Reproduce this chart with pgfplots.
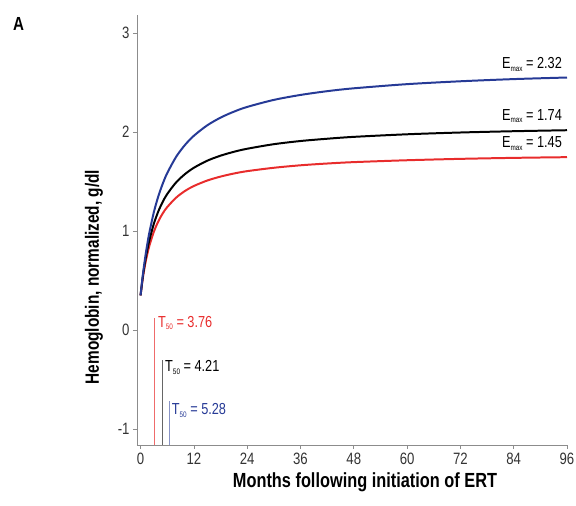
\documentclass[border=0pt]{standalone}
\usepackage{fontspec}
\setmainfont{Liberation Sans}[FakeStretch=0.8]
\usepackage{pgfplots}
\pgfplotsset{compat=1.18}

\definecolor{cblue}{RGB}{38,58,150}
\definecolor{cred}{RGB}{232,44,44}
\definecolor{axgray}{RGB}{140,140,140}

\newcommand{\sub}[1]{\raisebox{-2.5bp}{\fontsize{8}{8}\selectfont #1}}

\begin{document}
\begin{tikzpicture}
\useasboundingbox (-137bp,-61bp) rectangle (439bp,445bp);
\begin{axis}[
    at={(0,0)}, anchor=south west,
    scale only axis,
    width=430bp, height=430bp,
    xmin=-0.8, xmax=96, ymin=-1.16, ymax=3.18,
    axis x line*=bottom, axis y line*=left,
    axis line style={axgray, line width=0.8pt},
    xtick={0,12,...,96},
    ytick={-1,0,1,2,3}, yticklabels={-1,0,1,2,3},
    tick align=outside, major tick length=4bp,
    tick style={axgray, line width=0.6pt},
    ticklabel style={font=\fontsize{16.5}{16.5}\selectfont, text=black!80},
    /pgf/number format/assume math mode=true,
    xticklabel style={yshift=-1bp},
    clip=false,
]
% T50 markers
\addplot[cred!70, line width=0.6pt] coordinates {(3.2,-1.16) (3.2,0.12)};
\addplot[black!60, line width=0.6pt] coordinates {(5.0,-1.16) (5.0,-0.30)};
\addplot[cblue!55, line width=0.6pt] coordinates {(6.5,-1.16) (6.5,-0.72)};

% red: Emax 1.45
\addplot[cred, line width=2pt, smooth] coordinates {
(0,0.350) (0.5,0.520) (1,0.655) (1.5,0.763) (2,0.853) (3,0.993) (4,1.097)
(5,1.178) (6,1.241) (8,1.336) (10,1.404) (12,1.454) (15,1.509) (18,1.549)
(21,1.580) (24,1.604) (30,1.638) (36,1.663) (42,1.681) (48,1.695)
(60,1.714) (72,1.728) (84,1.738) (96,1.745)};
% black: Emax 1.74
\addplot[black, line width=2pt, smooth] coordinates {
(0,0.350) (0.5,0.535) (1,0.684) (1.5,0.807) (2,0.910) (3,1.074) (4,1.198)
(5,1.295) (6,1.373) (8,1.490) (10,1.574) (12,1.638) (15,1.709) (18,1.760)
(21,1.799) (24,1.830) (30,1.876) (36,1.908) (42,1.931) (48,1.950)
(60,1.976) (72,1.994) (84,2.007) (96,2.017)};
% blue: Emax 2.32
\addplot[cblue, line width=2pt, smooth] coordinates {
(0,0.350) (0.5,0.551) (1,0.719) (1.5,0.863) (2,0.987) (3,1.191) (4,1.350)
(5,1.478) (6,1.584) (8,1.748) (10,1.868) (12,1.961) (15,2.066) (18,2.144)
(21,2.204) (24,2.252) (30,2.323) (36,2.373) (42,2.411) (48,2.440)
(60,2.482) (72,2.511) (84,2.533) (96,2.549)};

\node[anchor=west, text=cred, font=\fontsize{16}{16}\selectfont, inner sep=0pt] at (axis cs:3.9,0.07) {T\sub{50} = 3.76};
\node[anchor=west, text=black, font=\fontsize{16}{16}\selectfont, inner sep=0pt] at (axis cs:5.5,-0.38) {T\sub{50} = 4.21};
\node[anchor=west, text=cblue, font=\fontsize{16}{16}\selectfont, inner sep=0pt] at (axis cs:7.0,-0.81) {T\sub{50} = 5.28};

\node[anchor=east, font=\fontsize{16}{16}\selectfont, inner sep=0pt] at (axis cs:94.9,2.68) {E\sub{max} = 2.32};
\node[anchor=east, font=\fontsize{16}{16}\selectfont, inner sep=0pt] at (axis cs:94.9,2.16) {E\sub{max} = 1.74};
\node[anchor=east, font=\fontsize{16}{16}\selectfont, inner sep=0pt] at (axis cs:94.9,1.88) {E\sub{max} = 1.45};
\end{axis}
\node[font=\bfseries\fontsize{19}{19}\selectfont] at (-118.5bp,421.5bp) {A};
\node[font=\bfseries\fontsize{20.5}{20.5}\selectfont] at (228bp,-37bp) {Months following initiation of ERT};
\node[font=\bfseries\fontsize{19.3}{19.3}\selectfont, rotate=90] at (-43bp,168bp) {Hemoglobin, normalized, g/dl};
\end{tikzpicture}
\end{document}
